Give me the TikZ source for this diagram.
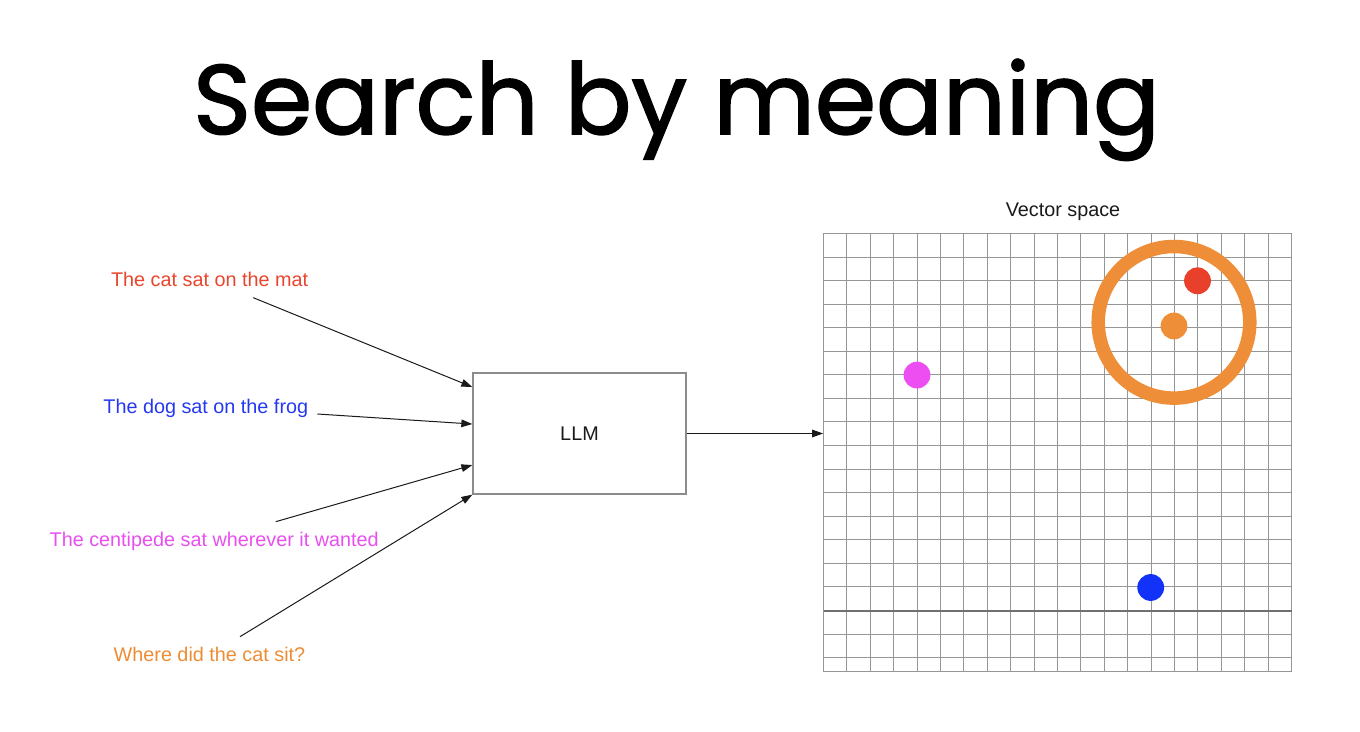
\documentclass[tikz,border=0pt]{standalone}
\usepackage{fontspec}
\setmainfont{Liberation Sans}
\newfontfamily\titlefont[FakeBold=1.6]{Poppins}
\usetikzlibrary{positioning,arrows.meta,calc}
\definecolor{INKc}{HTML}{1A1A1A}
\definecolor{CBORD}{HTML}{8C8C8C}
\definecolor{CGRID}{HTML}{969696}
\definecolor{CGRIDD}{HTML}{707070}
\definecolor{CCAT}{HTML}{E8452C}
\definecolor{CDOG}{HTML}{2438F2}
\definecolor{CCENT}{HTML}{E94FF0}
\definecolor{CWHERE}{HTML}{EE8C35}
\definecolor{DRED}{HTML}{E8402A}
\definecolor{DORANGE}{HTML}{EF8E38}
\definecolor{DPINK}{HTML}{EC4EF2}
\definecolor{DBLUE}{HTML}{1232F7}

\begin{document}
\begin{tikzpicture}[
  x=0.5pt, y=-0.5pt,
  font=\fontsize{9.9}{12}\selectfont,
  % sentence labels
  sent/.style={anchor=base west, inner sep=0pt},
  % the model box
  mbox/.style={draw=CBORD, line width=0.65pt, minimum width=106.5pt,
               minimum height=60.5pt, inner sep=0pt, text=INKc},
  % arrow style
  ar/.style={-{Triangle[length=5.5pt,width=3.8pt]}, color=INKc, line width=0.5pt},
  % grid lines (snapped to pixel centres)
  gl/.style={draw=CGRID, line width=0.55pt},
  % embedded points
  dot/.style={circle, inner sep=0pt, minimum size=13.4pt},
]
\useasboundingbox (0,0) rectangle (1360,732);

% ---------- Title ----------
\node[font=\titlefont\fontsize{49.3}{56}\selectfont, anchor=base] (TITLE)
  at (676.5,134) {Search by meaning};

% ---------- Sentences ----------
\node[sent, color=CCAT]   (CAT)   at (110.7,287)   {The cat sat on the mat};
\node[sent, color=CDOG]   (DOG)   at (103,413.5)   {The dog sat on the frog};
\node[sent, color=CCENT]  (CENT)  at (49.3,546)    {The centipede sat wherever it wanted};
\node[sent, color=CWHERE] (WHERE) at (113.3,661.7) {Where did the cat sit?};

% ---------- Model ----------
\node[mbox] (LLM) at (579.5,433.5) {LLM};

% ---------- Vector space grid ----------
\node[minimum width=234pt, minimum height=219pt, inner sep=0pt] (VS) at (1057.5,452.5) {};
\node[anchor=base, text=INKc] (VSL) at (1063,216.7) {Vector space};
\foreach \i in {0,...,20}
  \draw[gl] ({round(823+\i*23.4)+0.5},233.5) -- ({round(823+\i*23.4)+0.5},671.5);
\foreach \k in {0,...,18}
  \draw[gl] (823.5,{round(233+\k*23.56)+0.5}) -- (1291.5,{round(233+\k*23.56)+0.5});
\draw[gl] (823.5,671.5) -- (1291.5,671.5);
\draw[draw=CGRIDD, line width=1pt] (823.5,610.5) -- (1291.5,610.5);

% ---------- Points ----------
\draw[draw=DORANGE, line width=6.75pt] (1174,322.3) circle[radius=75.8];
\node[dot, fill=DRED]    (PCAT)   at (1197.5,280.8) {};
\node[dot, fill=DORANGE] (PWHERE) at (1174,326)     {};
\node[dot, fill=DPINK]   (PCENT)  at (917,375.1)    {};
\node[dot, fill=DBLUE]   (PDOG)   at (1150.7,587.5) {};

% ---------- Sentences -> LLM ----------
\coordinate (s1) at (253.3,297.7);
\coordinate (s2) at (317.3,414);
\coordinate (s3) at (275.7,521.7);
\coordinate (s4) at (240,636.7);
\draw[ar] (s1) -- ($(LLM.north west)+(0,14.7)$);
\draw[ar] (s2) -- ($(LLM.north west)+(0,51.7)$);
\draw[ar] (s3) -- ($(LLM.north west)+(0,92.7)$);
\draw[ar] (s4) -- (LLM.south west);

% ---------- LLM -> vector space ----------
\draw[ar] (LLM.east) -- (LLM.east -| VS.west);

\end{tikzpicture}
\end{document}
